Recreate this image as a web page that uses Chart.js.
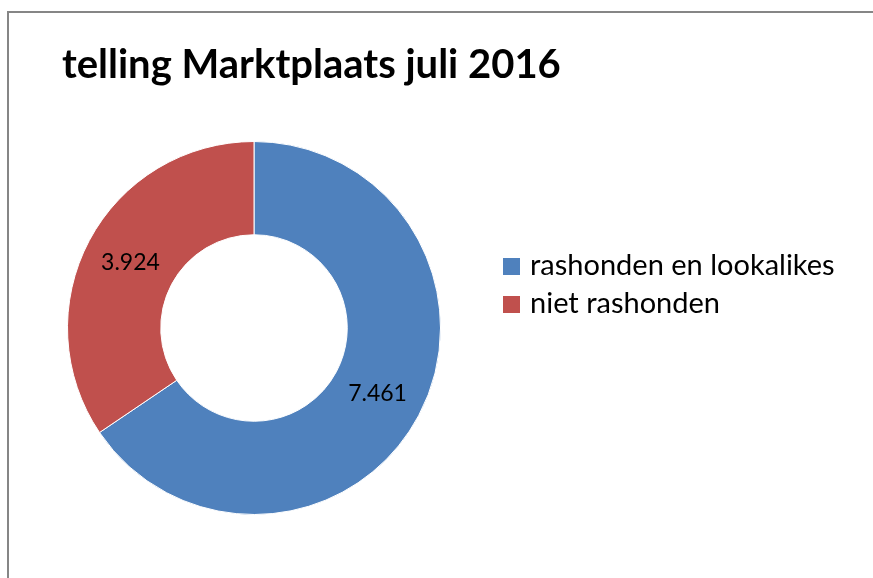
<!DOCTYPE html>
<html lang="nl">
<head>
<meta charset="utf-8">
<title>telling Marktplaats juli 2016</title>
<script src="https://cdn.jsdelivr.net/npm/chart.js@4/dist/chart.umd.min.js"></script>
<style>
    html, body { margin: 0; padding: 0; background: #fff; }
    #kader {
        position: absolute;
        left: 7px;
        top: 11px;
        width: 900px;
        height: 600px;
        border-left: 2px solid #868686;
        border-top: 2px solid #868686;
    }
    #grafiek { position: absolute; left: 0; top: 0; }
</style>
</head>
<body>
<div id="kader"></div>
<canvas id="grafiek" width="873" height="578"></canvas>
<script>
// Gegevens
const titel = 'telling Marktplaats juli 2016';
const categorieen = ['rashonden en lookalikes', 'niet rashonden'];
const aantallen = [7461, 3924];
const kleuren = ['#4F81BD', '#C0504D'];

const lettertype = 'Lato, "Open Sans", sans-serif';

// Getal met punt als duizendtal-scheiding (7.461)
function formatNL(n) {
    return String(n).replace(/\B(?=(\d{3})+(?!\d))/g, '.');
}

// Plugin voor titel, legenda en waardelabels
const tekstPlugin = {
    id: 'tekstPlugin',
    afterDraw(chart) {
        const ctx = chart.ctx;
        ctx.save();

        // Titel
        ctx.fillStyle = '#000';
        ctx.textAlign = 'left';
        ctx.textBaseline = 'alphabetic';
        ctx.font = 'bold 40px ' + lettertype;
        ctx.fillText(titel, 62, 78);

        // Legenda rechts
        ctx.font = '29px ' + lettertype;
        chart.data.labels.forEach((label, i) => {
            const y = 275 + i * 38;
            ctx.fillStyle = chart.data.datasets[0].backgroundColor[i];
            ctx.fillRect(503, y - 17, 17, 17);
            ctx.fillStyle = '#000';
            ctx.fillText(label, 530, y);
        });

        // Waarden midden in elk segment
        const meta = chart.getDatasetMeta(0);
        ctx.font = '23px ' + lettertype;
        ctx.textAlign = 'center';
        ctx.textBaseline = 'middle';
        meta.data.forEach((arc, i) => {
            const p = arc.getCenterPoint();
            ctx.fillText(formatNL(chart.data.datasets[0].data[i]), p.x, p.y);
        });

        ctx.restore();
    }
};

const ctx = document.getElementById('grafiek').getContext('2d');
new Chart(ctx, {
    type: 'doughnut',
    data: {
        labels: categorieen,
        datasets: [{
            data: aantallen,
            backgroundColor: kleuren,
            borderColor: '#ffffff',
            borderWidth: 1
        }]
    },
    options: {
        responsive: false,
        animation: false,
        cutout: '50%',
        layout: {
            padding: { left: 67, right: 432, top: 141, bottom: 63 }
        },
        plugins: {
            legend: { display: false },
            title: { display: false },
            tooltip: { enabled: false }
        }
    },
    plugins: [tekstPlugin]
});
</script>
</body>
</html>
